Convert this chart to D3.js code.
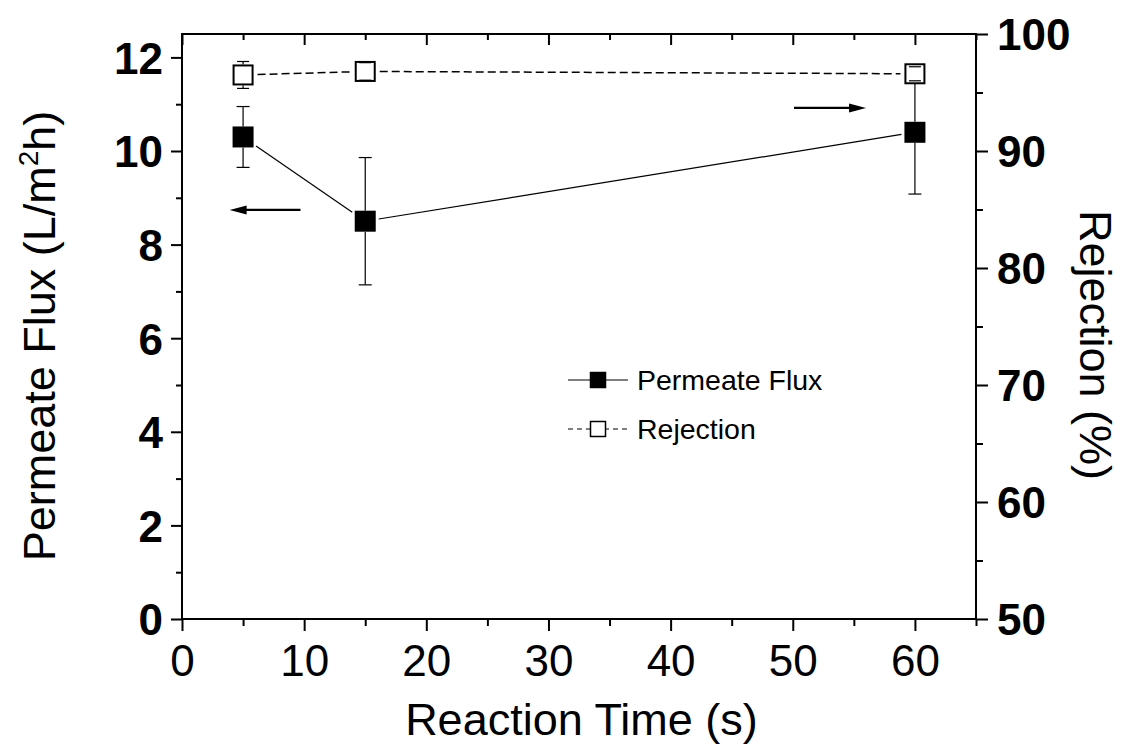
<!DOCTYPE html>
<html>
<head>
<meta charset="utf-8">
<script src="https://cdn.jsdelivr.net/npm/d3@7"></script>
<style>
  body { margin: 0; background: #fff; }
  text { font-family: "Liberation Sans", Arial, sans-serif; fill: #000; }
</style>
</head>
<body>
<div class="canva"></div>
<script>
// data
const times = [5, 15, 60];
const flux = [10.3, 8.5, 10.4];
const fluxErr = [0.65, 1.36, 1.32];
const rejection = [96.5, 96.8, 96.6];
const rejectionErr = [1.15, 0.75, 0.6];

const xTicks = [0, 10, 20, 30, 40, 50, 60];
const xMinor = [5, 15, 25, 35, 45, 55, 65];
const leftTicks = [0, 2, 4, 6, 8, 10, 12];
const leftMinor = [1, 3, 5, 7, 9, 11];
const rightTicks = [50, 60, 70, 80, 90, 100];
const rightMinor = [55, 65, 75, 85, 95];

// arrows: [from x, to x, flux y]
const arrowLeft = [9.7, 3.9, 8.74];
const arrowRight = [50.1, 56.0, 10.92];

const width = 1122, height = 750;
const margin = { top: 34, right: 146, bottom: 131, left: 182 };
const graphWidth = width - margin.left - margin.right;
const graphHeight = height - margin.top - margin.bottom;

const svg = d3.select('.canva').append('svg')
  .attr('width', width)
  .attr('height', height);

const graph = svg.append('g')
  .attr('transform', `translate(${margin.left}, ${margin.top})`);

const x = d3.scaleLinear().domain([0, 65]).range([0, graphWidth]);
const yL = d3.scaleLinear().domain([0, 12.5]).range([graphHeight, 0]);
const yR = d3.scaleLinear().domain([50, 100]).range([graphHeight, 0]);

// axes
function styleAxis(g, size, bold) {
  g.select('.domain').remove();
  g.selectAll('.tick line').attr('stroke', '#000').attr('stroke-width', 2);
  g.selectAll('.tick text')
    .style('font-size', size + 'px')
    .style('font-weight', bold ? 'bold' : 'normal')
    .attr('fill', '#000');
}

const xAxis = graph.append('g').attr('transform', `translate(0, ${graphHeight})`)
  .call(d3.axisBottom(x).tickValues(xTicks).tickSize(12).tickPadding(14).tickFormat(d3.format('d')));
styleAxis(xAxis, 44, false);
const xAxisMinor = graph.append('g').attr('transform', `translate(0, ${graphHeight})`)
  .call(d3.axisBottom(x).tickValues(xMinor).tickSize(7).tickFormat(''));
styleAxis(xAxisMinor, 0, false);

const topAxis = graph.append('g')
  .call(d3.axisTop(x).tickValues(xTicks.concat([])).tickSize(-11).tickFormat(''));
styleAxis(topAxis, 0, false);
const topMinor = graph.append('g')
  .call(d3.axisTop(x).tickValues(xMinor).tickSize(-6).tickFormat(''));
styleAxis(topMinor, 0, false);

const yAxisL = graph.append('g')
  .call(d3.axisLeft(yL).tickValues(leftTicks).tickSize(11).tickPadding(8));
styleAxis(yAxisL, 44, true);
yAxisL.selectAll('.tick text').attr('dy', '0.36em');
const yMinorL = graph.append('g')
  .call(d3.axisLeft(yL).tickValues(leftMinor).tickSize(6).tickFormat(''));
styleAxis(yMinorL, 0, false);

const yAxisR = graph.append('g').attr('transform', `translate(${graphWidth}, 0)`)
  .call(d3.axisRight(yR).tickValues(rightTicks).tickSize(12).tickPadding(9));
styleAxis(yAxisR, 44, true);
yAxisR.selectAll('.tick text').attr('dy', '0.36em');
const yMinorR = graph.append('g').attr('transform', `translate(${graphWidth}, 0)`)
  .call(d3.axisRight(yR).tickValues(rightMinor).tickSize(7).tickFormat(''));
styleAxis(yMinorR, 0, false);

// frame
graph.append('rect')
  .attr('width', graphWidth).attr('height', graphHeight)
  .attr('fill', 'none').attr('stroke', '#000').attr('stroke-width', 2);

// axis titles
svg.append('text')
  .attr('x', margin.left + x(32.7)).attr('y', 735)
  .attr('text-anchor', 'middle')
  .style('font-size', '45px')
  .text('Reaction Time (s)');

const leftTitle = svg.append('text')
  .attr('transform', 'translate(55, 336) rotate(-90)')
  .attr('text-anchor', 'middle')
  .style('font-size', '45px');
leftTitle.append('tspan').text('Permeate Flux (L/m');
leftTitle.append('tspan').attr('dy', -17).style('font-size', '28px').text('2');
leftTitle.append('tspan').attr('dy', 17).text('h)');

svg.append('text')
  .attr('transform', 'translate(1080, 345) rotate(90)')
  .attr('text-anchor', 'middle')
  .style('font-size', '45px')
  .text('Rejection (%)');

// helpers
const half = 10.5;
function trimmed(pts, gap) {
  const segs = [];
  for (let i = 0; i < pts.length - 1; i++) {
    const [x1, y1] = pts[i], [x2, y2] = pts[i + 1];
    const dx = x2 - x1, dy = y2 - y1, len = Math.hypot(dx, dy);
    const ux = dx / len, uy = dy / len;
    const r = half / Math.max(Math.abs(ux), Math.abs(uy)) + gap;
    segs.push([[x1 + ux * r, y1 + uy * r], [x2 - ux * r, y2 - uy * r]]);
  }
  return segs;
}

const fluxPts = times.map((t, i) => [x(t), yL(flux[i])]);
const rejPts = times.map((t, i) => [x(t), yR(rejection[i])]);

// connecting lines
graph.selectAll('.flux-line')
  .data(trimmed(fluxPts, 3))
  .enter().append('line')
  .attr('x1', d => d[0][0]).attr('y1', d => d[0][1])
  .attr('x2', d => d[1][0]).attr('y2', d => d[1][1])
  .attr('stroke', '#000').attr('stroke-width', 1.2);

graph.selectAll('.rej-line')
  .data(trimmed(rejPts, 4))
  .enter().append('line')
  .attr('x1', d => d[0][0]).attr('y1', d => d[0][1])
  .attr('x2', d => d[1][0]).attr('y2', d => d[1][1])
  .attr('stroke', '#000').attr('stroke-width', 1.5)
  .attr('stroke-dasharray', '8,4');

// error bars: vertical part outside the marker, caps always
function errorBars(cls, vals, errs, y, cap) {
  const g = graph.append('g').attr('class', cls);
  times.forEach((t, i) => {
    const cx = x(t), cy = y(vals[i]);
    const top = y(vals[i] + errs[i]), bot = y(vals[i] - errs[i]);
    if (top < cy - half) g.append('line').attr('x1', cx).attr('x2', cx).attr('y1', top).attr('y2', cy - half);
    if (bot > cy + half) g.append('line').attr('x1', cx).attr('x2', cx).attr('y1', cy + half).attr('y2', bot);
    [top, bot].forEach(yy => g.append('line')
      .attr('x1', cx - cap / 2).attr('x2', cx + cap / 2).attr('y1', yy).attr('y2', yy));
  });
  g.selectAll('line').attr('stroke', '#000').attr('stroke-width', 1.2);
}

errorBars('flux-err', flux, fluxErr, yL, 13);

graph.selectAll('.flux-mark')
  .data(fluxPts)
  .enter().append('rect')
  .attr('x', d => d[0] - half).attr('y', d => d[1] - half)
  .attr('width', half * 2).attr('height', half * 2)
  .attr('fill', '#000');

graph.selectAll('.rej-mark')
  .data(rejPts)
  .enter().append('rect')
  .attr('x', d => d[0] - half + 1).attr('y', d => d[1] - half + 1)
  .attr('width', half * 2 - 2).attr('height', half * 2 - 2)
  .attr('fill', '#fff').attr('stroke', '#000').attr('stroke-width', 2);

errorBars('rej-err', rejection, rejectionErr, yR, 12);

// arrows
function arrow(a) {
  const [fx, tx, fy] = a;
  const x1 = x(fx), x2 = x(tx), yy = yL(fy);
  const dir = Math.sign(x2 - x1);
  const headLen = 17, headH = 4.5;
  graph.append('line')
    .attr('x1', x1).attr('x2', x2 - dir * headLen + dir * 2).attr('y1', yy).attr('y2', yy)
    .attr('stroke', '#000').attr('stroke-width', 2.2);
  graph.append('path')
    .attr('d', `M${x2},${yy} L${x2 - dir * headLen},${yy - headH} L${x2 - dir * headLen},${yy + headH} Z`)
    .attr('fill', '#000');
}
arrow(arrowLeft);
arrow(arrowRight);

// legend
const legendItems = [
  { name: 'Permeate Flux', fill: '#000', dash: null },
  { name: 'Rejection', fill: '#fff', dash: '5,4' }
];
const legend = svg.append('g').attr('transform', 'translate(568, 380)');
const item = legend.selectAll('g').data(legendItems).enter().append('g')
  .attr('transform', (d, i) => `translate(0, ${i * 49})`);
item.append('line')
  .attr('x1', 0).attr('x2', 60).attr('y1', 0).attr('y2', 0)
  .attr('stroke', '#000').attr('stroke-width', 1.2)
  .attr('stroke-dasharray', d => d.dash);
item.append('rect')
  .attr('x', 22.5).attr('y', -7.5).attr('width', 15).attr('height', 15)
  .attr('fill', d => d.fill).attr('stroke', '#000').attr('stroke-width', 1.5);
item.append('text')
  .attr('x', 69).attr('y', 10)
  .style('font-size', '28.5px')
  .text(d => d.name);
</script>
</body>
</html>
